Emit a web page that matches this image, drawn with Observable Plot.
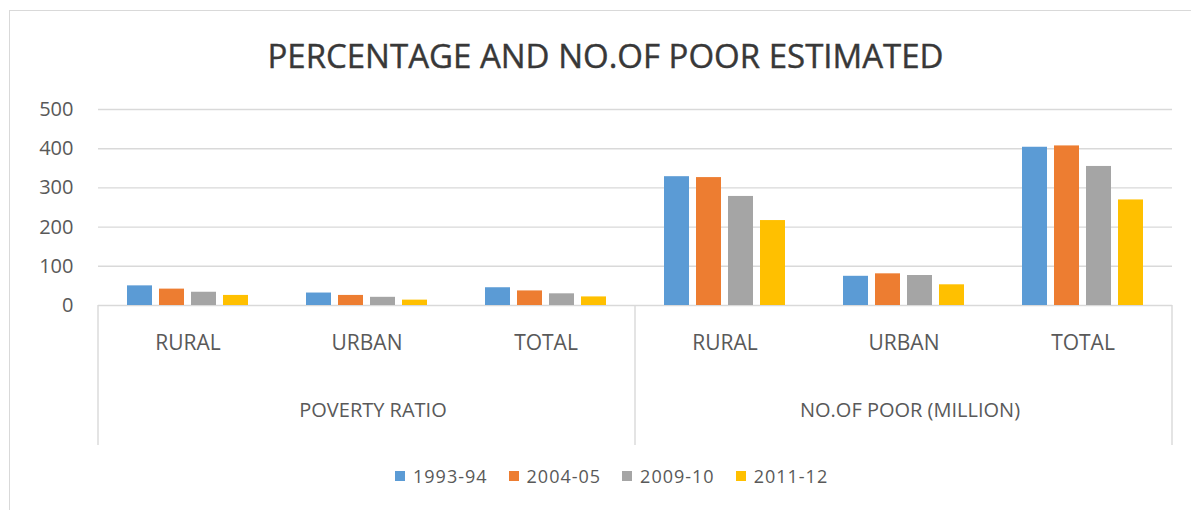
<!DOCTYPE html>
<html>
<head>
<meta charset="utf-8">
<script src="https://cdn.jsdelivr.net/npm/d3@7"></script>
<script src="https://cdn.jsdelivr.net/npm/@observablehq/plot@0.6"></script>
<style>
  html, body { margin: 0; padding: 0; background: #fff; width: 1191px; height: 510px; overflow: hidden; font-family: "Open Sans", sans-serif; }
  #frame { position: absolute; left: 9px; top: 10px; right: -10px; bottom: -10px; border-left: 1.5px solid #d9d9d9; border-top: 1.5px solid #d9d9d9; }
  #title { position: absolute; left: 0; width: 1211px; top: 40px; line-height: 32px; text-align: center; font-size: 33px; color: #383838; white-space: nowrap; -webkit-text-stroke: 0.4px #383838; }
  #chart { position: absolute; left: 0; top: 0; }
  #legend { position: absolute; left: 395px; top: 467px; display: flex; gap: 21px; font-size: 18px; line-height: 18px; letter-spacing: 1px; color: #595959; white-space: nowrap; }
  #legend .item { display: flex; align-items: center; }
  #legend .sw { width: 10px; height: 10px; margin-right: 8px; }
</style>
</head>
<body>
<div id="frame"></div>
<div id="title">PERCENTAGE AND NO.OF POOR ESTIMATED</div>
<div id="chart"></div>
<div id="legend"></div>
<script>
// ---- data ----
const measures = ["POVERTY RATIO", "NO.OF POOR (MILLION)"];
const areas = ["RURAL", "URBAN", "TOTAL"];
const years = ["1993-94", "2004-05", "2009-10", "2011-12"];
// values per year: [ratio rural, ratio urban, ratio total, poor rural, poor urban, poor total]
const v1993_94 = [50.1, 31.8, 45.3, 328.6, 74.5, 403.7];
const v2004_05 = [41.8, 25.7, 37.2, 326.3, 80.8, 407.1];
const v2009_10 = [33.8, 20.9, 29.8, 278.2, 76.5, 354.7];
const v2011_12 = [25.7, 13.7, 21.9, 216.7, 52.8, 269.3];
const yTicks = [0, 100, 200, 300, 400, 500];
const colors = ["#5B9BD5", "#ED7D31", "#A5A5A5", "#FFC000"];

const series = [v1993_94, v2004_05, v2009_10, v2011_12];
const keys = measures.flatMap(m => areas.map(a => m + "|" + a));
const rows = years.flatMap((yr, i) => keys.map((k, j) => ({key: k, year: yr, value: series[i][j]})));
const groupLabels = measures.map(m => ({key: m + "|" + areas[1], label: m}));

const plot = Plot.plot({
  width: 1191,
  height: 450,
  marginLeft: 97,
  marginRight: 19,
  marginTop: 109,
  marginBottom: 145,
  style: {fontFamily: "'Open Sans', sans-serif", color: "#595959", background: "transparent", overflow: "visible"},
  fx: {domain: keys, padding: 0, axis: null},
  x: {domain: years, paddingInner: 0.22, paddingOuter: 0.885, axis: null},
  y: {domain: [0, 500], axis: null},
  color: {domain: years, range: colors},
  marks: [
    Plot.gridY(yTicks, {stroke: "#d9d9d9", strokeOpacity: 1, strokeWidth: 1.4}),
    Plot.barY(rows, {fx: "key", x: "year", y: "value", fill: "year"}),
    Plot.axisY(yTicks, {tickSize: 0, tickPadding: 25, fontSize: 20, label: null}),
    Plot.axisFx({anchor: "bottom", tickSize: 0, tickPadding: 30, fontSize: 21, label: null, tickFormat: k => k.split("|")[1]}),
    Plot.text(groupLabels, {fx: "key", text: "label", frameAnchor: "bottom", dy: 111, dx: 6, fontSize: 20, fill: "#595959"})
  ]
});
document.getElementById("chart").appendChild(plot);

// category-group separators below the axis, placed with Plot's fx / y scales
const fx = plot.scale("fx");
const ys = plot.scale("y");
const y0 = ys.apply(0);
const sepKeys = [keys[0], keys[3]];
const sepX = sepKeys.map(k => fx.apply(k)).concat([fx.apply(keys[keys.length - 1]) + fx.bandwidth]);
d3.select(plot).append("g")
  .selectAll("line").data(sepX).join("line")
  .attr("x1", d => d).attr("x2", d => d)
  .attr("y1", y0).attr("y2", 445)
  .attr("stroke", "#d9d9d9").attr("stroke-width", 1.4);

// legend
const legend = d3.select("#legend");
years.forEach((yr, i) => {
  const it = legend.append("span").attr("class", "item");
  it.append("span").attr("class", "sw").style("background", colors[i]);
  it.append("span").text(yr);
});
</script>
</body>
</html>
